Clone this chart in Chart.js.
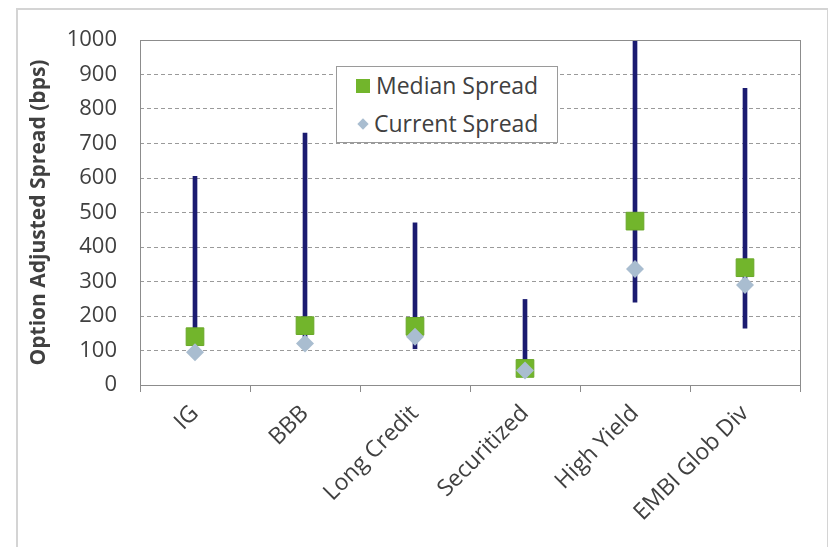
<!DOCTYPE html>
<html>
<head>
<meta charset="utf-8">
<script src="https://cdn.jsdelivr.net/npm/chart.js@4"></script>
<style>
  body { margin: 0; background: #fff; }
  #wrap { position: relative; width: 828px; height: 547px; overflow: hidden; }
  #frame { position: absolute; left: 16px; top: 8px; width: 809px; height: 560px; border: 2px solid #d4d4d4; }
  #chart { position: absolute; left: 0; top: 0; }
  #legend { position: absolute; left: 336px; top: 66px; width: 220px; height: 75px; border: 1px solid #9a9a9a; background: #fff;
            font-family: "Open Sans", sans-serif; font-size: 23px; color: #404040; }
  .row { position: absolute; left: 0; height: 30px; line-height: 30px; white-space: nowrap; }
  .sw { display: inline-block; vertical-align: middle; }
</style>
</head>
<body>
<div id="wrap">
  <div id="frame"></div>
  <canvas id="chart" width="828" height="547"></canvas>
  <div id="legend">
    <div class="row" style="top:3px"><span class="sw" style="width:14px;height:14px;background:#72b52c;margin:0 6px 4px 19px"></span>Median Spread</div>
    <div class="row" style="top:41px"><span class="sw" style="width:8px;height:8px;background:#a9bdd0;transform:rotate(45deg);margin:0 7px 4px 22px"></span>Current Spread</div>
  </div>
</div>
<script>
document.addEventListener('DOMContentLoaded', () => {
    // Kategorie a hodnoty (bps)
    const categories = ['IG', 'BBB', 'Long Credit', 'Securitized', 'High Yield', 'EMBI Glob Div'];
    const rangeLow   = [95, 118, 105, 30, 240, 165];
    const rangeHigh  = [605, 730, 470, 248, 1000, 860];
    const median     = [140, 172, 170, 48, 475, 340];
    const current    = [95, 120, 140, 42, 336, 290];
    const yTicks     = [0, 100, 200, 300, 400, 500, 600, 700, 800, 900, 1000];

    const font = "'Open Sans', sans-serif";
    const textColor = '#404040';

    // Rámeček kolem plochy grafu
    const plotBorder = {
        id: 'plotBorder',
        afterDraw(chart) {
            const { ctx, chartArea: a } = chart;
            ctx.save();
            ctx.strokeStyle = '#8c8c8c';
            ctx.lineWidth = 1;
            ctx.strokeRect(a.left + 0.5, a.top + 0.5, a.right - a.left, a.bottom - a.top);
            ctx.restore();
        }
    };

    const ctx = document.getElementById('chart').getContext('2d');
    new Chart(ctx, {
        data: {
            labels: categories,
            datasets: [
                {
                    type: 'line',
                    label: 'Current Spread',
                    data: current,
                    showLine: false,
                    pointStyle: 'rectRot',
                    pointRadius: 9,
                    backgroundColor: '#a9bdd0',
                    borderColor: '#a9bdd0',
                    borderWidth: 0,
                    order: 1
                },
                {
                    type: 'line',
                    label: 'Median Spread',
                    data: median,
                    showLine: false,
                    pointStyle: 'rect',
                    pointRadius: 12.5,
                    backgroundColor: '#72b52c',
                    borderColor: '#6aa829',
                    borderWidth: 1,
                    order: 2
                },
                {
                    type: 'bar',
                    label: 'Range',
                    data: rangeLow.map((lo, i) => [lo, rangeHigh[i]]),
                    backgroundColor: '#1b1b70',
                    barThickness: 4,
                    order: 3
                }
            ]
        },
        options: {
            responsive: false,
            animation: false,
            devicePixelRatio: 1,
            layout: { padding: { left: 22, top: 40, right: 28, bottom: 0 } },
            plugins: {
                legend: { display: false },
                tooltip: { enabled: false }
            },
            scales: {
                x: {
                    grid: { offset: true, drawOnChartArea: false, tickLength: 7, color: '#8c8c8c' },
                    border: { display: false },
                    ticks: {
                        font: { family: font, size: 23 },
                        color: textColor,
                        minRotation: 45,
                        maxRotation: 45,
                        padding: 8
                    },
                    afterFit: scale => { scale.height = 162; }
                },
                y: {
                    min: 0,
                    max: 1000,
                    afterBuildTicks: scale => { scale.ticks = yTicks.map(v => ({ value: v })); },
                    grid: { drawTicks: false, color: '#9a9a9a' },
                    border: { display: false, dash: [4, 3] },
                    ticks: {
                        font: { family: font, size: 22 },
                        color: textColor,
                        padding: 23,
                        callback: v => String(v)
                    },
                    title: {
                        display: true,
                        text: 'Option Adjusted Spread (bps)',
                        font: { family: font, size: 21, weight: 'bold' },
                        color: textColor,
                        padding: { top: 4, bottom: 4 }
                    },
                    afterFit: scale => { scale.width = 118; }
                }
            }
        },
        plugins: [plotBorder]
    });
});
</script>
</body>
</html>
